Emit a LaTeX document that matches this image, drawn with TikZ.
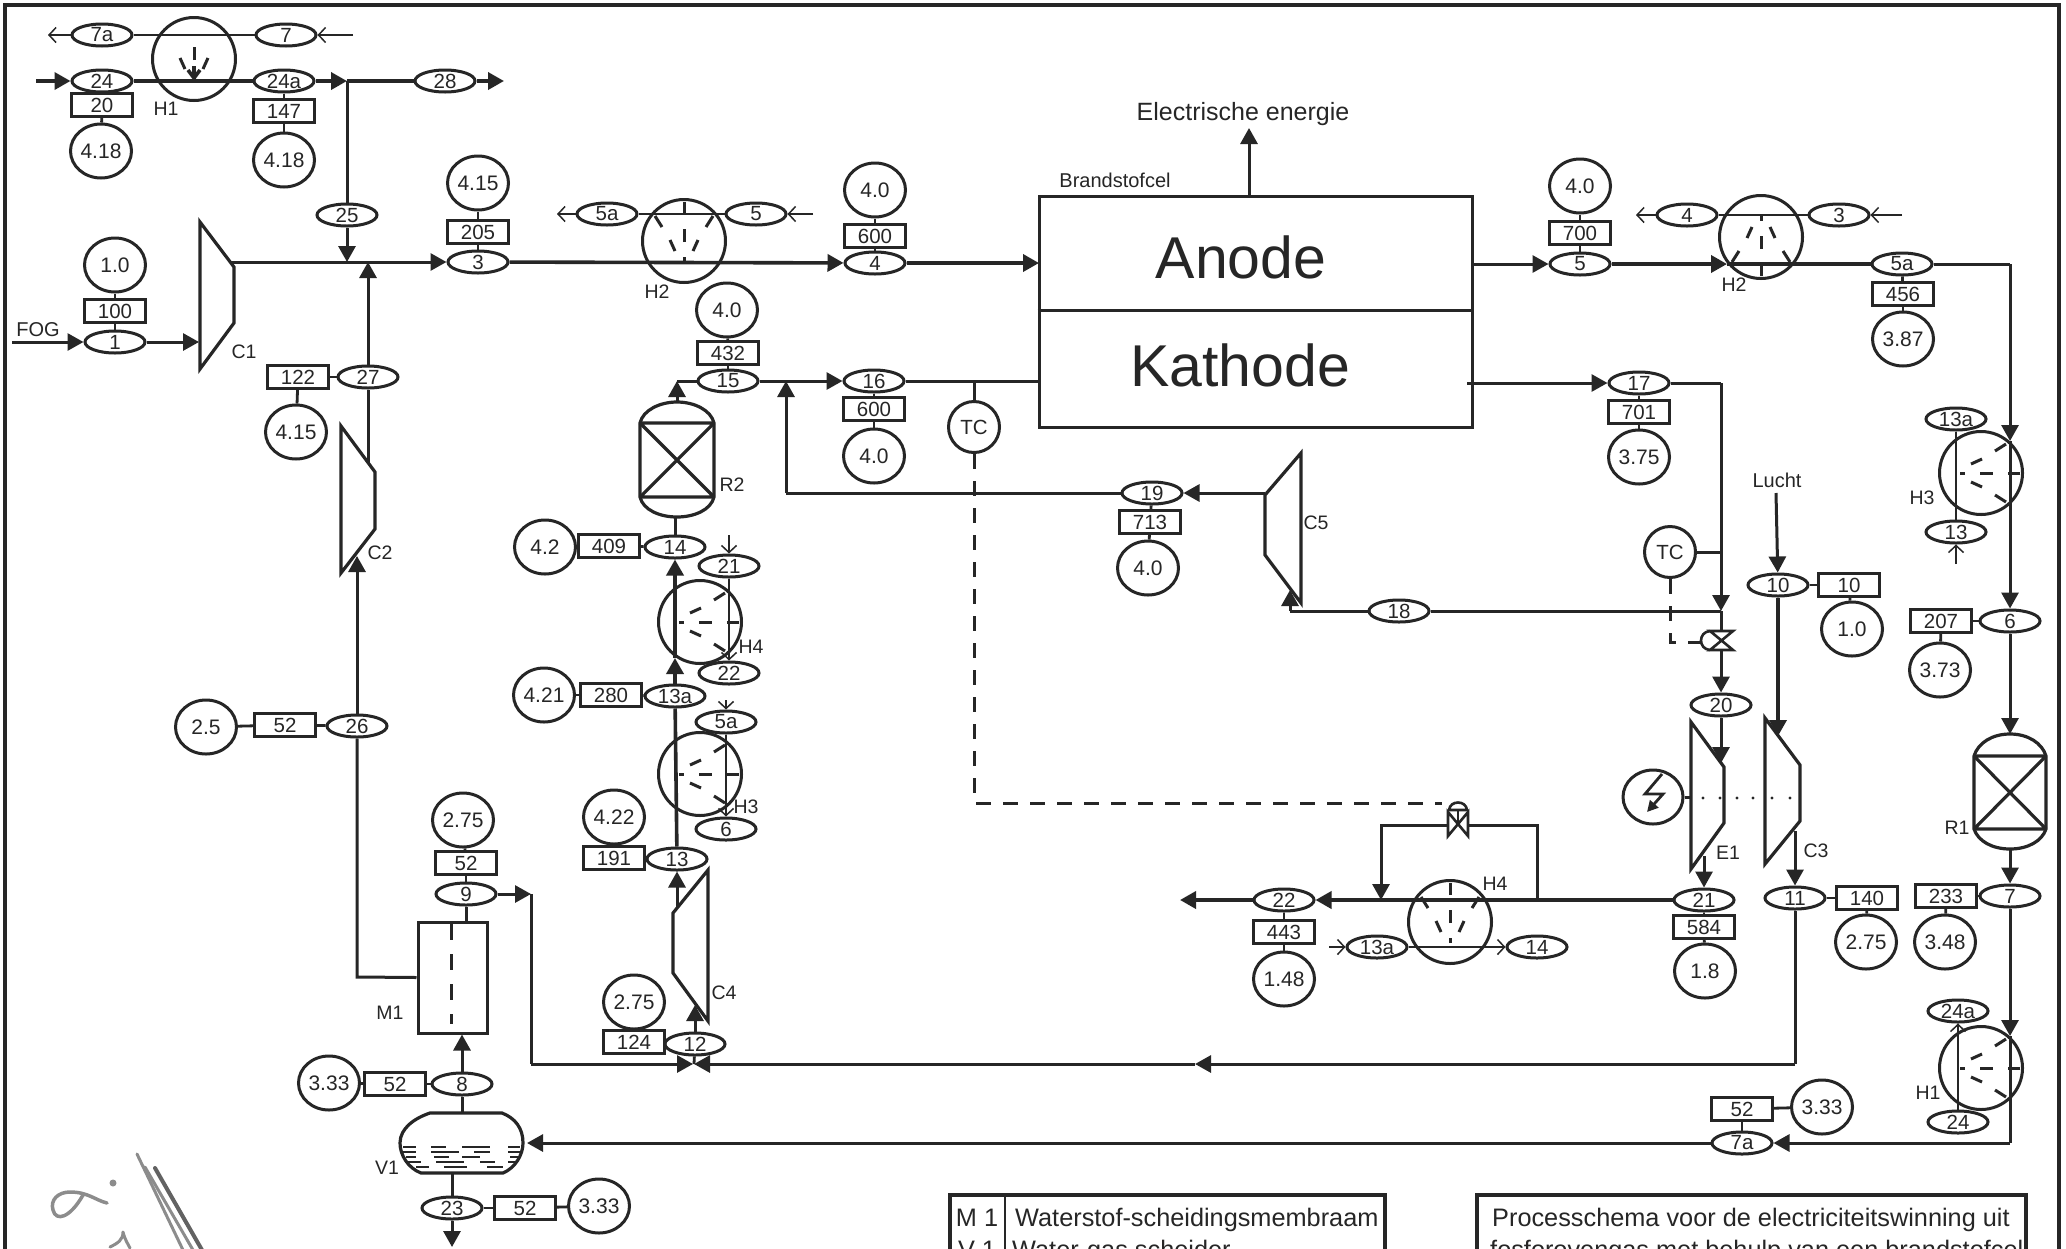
\documentclass[tikz,border=0pt]{standalone}
\usepackage{fontspec}
\setmainfont{Liberation Sans}
\usetikzlibrary{arrows.meta,shapes.geometric,calc}
\newcommand{\fsz}[1]{\fontsize{#1}{#1}\selectfont}
\definecolor{ink}{HTML}{262626}
\definecolor{pencil}{HTML}{8C8C8C}
\tikzset{
  x=1pt,y=-1pt,
  tg/.style={ellipse,draw=ink,line width=3pt,inner sep=0pt,minimum width=60pt,minimum height=22pt,text=ink,font=\fsz{20.5}},
  vl/.style={rectangle,draw=ink,line width=3.2pt,inner sep=0pt,minimum width=61pt,minimum height=23pt,text=ink,font=\fsz{20.5}},
  pr/.style={ellipse,draw=ink,line width=3pt,inner sep=0pt,minimum width=61pt,minimum height=54pt,text=ink,font=\fsz{21}},
  tcn/.style={ellipse,draw=ink,line width=3pt,inner sep=0pt,minimum width=51pt,minimum height=51pt,text=ink,font=\fsz{20.5}},
  lbl/.style={inner sep=0pt,text=ink,font=\fsz{19.5}},
  hxc/.style={circle,draw=ink,line width=3pt,inner sep=0pt,minimum size=83pt},
  hxd/.style={draw=ink,line width=3pt},
  eqp/.style={draw=ink,line width=3.2pt,line join=miter},
  stub/.style={draw=ink,line width=2.8pt},
  ln/.style={draw=ink,line width=3pt},
  hv/.style={draw=ink,line width=3.6pt},
  thn/.style={draw=ink,line width=1.5pt},
  fl/.style={-{Triangle[length=16pt,width=17pt]}},
  ol/.style={thn,-{Straight Barb[length=7pt,width=15pt]}},
  dsh/.style={draw=ink,line width=3pt,dash pattern=on 15pt off 12pt},
  pen/.style={draw=pencil,line cap=round,line join=round},
}
% stream: tag, value box, pressure circle with their stubs
\newcommand{\stk}[7]{%
  \node[tg] (t#1) at (#2) {#3};
  \node[vl] (v#1) at (#4) {#5};
  \node[pr] (p#1) at (#6) {#7};
  \draw[stub] (t#1) -- (v#1);
  \draw[stub] (v#1) -- (p#1);
}
% heat exchanger fan, optionally with outer ticks
\newcommand{\hxfan}[3]{\begin{scope}[shift={(#1)},rotate=#2]
  \draw[hxd] (0,-1) -- (0,12);
  \draw[hxd] (-9,-10) -- (-14,1);
  \draw[hxd] (9,-10) -- (14,1);
  \draw[hxd] (0,-21) -- (0,-16);
  #3
\end{scope}}
\newcommand{\hxout}{%
  \draw[hxd] (-22,14) -- (-29,25);
  \draw[hxd] (22,14) -- (29,25);
  \draw[hxd] (0,27) -- (0,39);}
\begin{document}
\begin{tikzpicture}
\useasboundingbox (0,0) rectangle (2066,1248);
\clip (0,0) rectangle (2066,1248);
\fill[white] (0,0) rectangle (2066,1248);
% frame
\draw[draw=ink,line width=3.2pt] (5,1260) -- (5,5) -- (2059,5) -- (2059,1260);

% ---------- streams
\stk{24}{102,81}{24}{102,105}{20}{101,151}{4.18}
\stk{24a}{284,81}{24a}{284,111}{147}{284,160}{4.18}
\stk{1}{115,342}{1}{115,311}{100}{115,265}{1.0}
\stk{27}{368,377}{27}{298,377}{122}{296,432}{4.15}
\stk{3}{478,262}{3}{478,232}{205}{478,183}{4.15}
\stk{4}{875,263}{4}{875,236}{600}{875,190}{4.0}
\stk{5}{1580,264}{5}{1580,233}{700}{1580,186}{4.0}
\stk{15}{728,381}{15}{728,353}{432}{727,310}{4.0}
\stk{16}{874,381}{16}{874,409}{600}{874,456}{4.0}
\stk{14}{675,547}{14}{609,546}{409}{545,547}{4.2}
\stk{13a}{675,696}{13a}{611,695}{280}{544,695}{4.21}
\stk{13}{677,859}{13}{614,858}{191}{614,817}{4.22}
\stk{12}{695,1044}{12}{634,1042}{124}{634,1002}{2.75}
\stk{26}{357,726}{26}{285,725}{52}{206,727}{2.5}
\stk{9}{466,894}{9}{466,863}{52}{463,820}{2.75}
\stk{8}{462,1084}{8}{395,1084}{52}{329,1083}{3.33}
\stk{23}{452,1208}{23}{525,1208}{52}{599,1206}{3.33}
\stk{7a}{1742,1143}{7a}{1742,1109}{52}{1822,1107}{3.33}
\stk{19}{1152,493}{19}{1150,522}{713}{1148,568}{4.0}
\stk{22}{1284,900}{22}{1284,932}{443}{1284,979}{1.48}
\stk{21}{1704,900}{21}{1704,927}{584}{1705,971}{1.8}
\stk{11}{1795,898}{11}{1867,898}{140}{1866,942}{2.75}
\stk{7}{2010,896}{7}{1946,896}{233}{1945,942}{3.48}
\stk{6}{2010,621}{6}{1941,621}{207}{1940,670}{3.73}
\stk{5a}{1902,264}{5a}{1903,294}{456}{1903,339}{3.87}
\stk{10}{1778,585}{10}{1849,585}{10}{1852,629}{1.0}
\stk{17}{1639,383}{17}{1639,412}{701}{1639,457}{3.75}
\node[tg] (t18) at (1399,611) {18};
\node[tg] (t20) at (1721,705) {20};
\node[tg] (t25) at (347,215) {25};
\node[tg] (t28) at (445,81) {28};

% ---------- auxiliary tags on the exchanger utility sides
\node[tg] (a7a) at (102,35) {7a};
\node[tg] (a7) at (286,35) {7};
\node[tg] (l5a) at (607,214) {5a};
\node[tg] (l5) at (756,214) {5};
\node[tg] (r4) at (1687,215) {4};
\node[tg] (r3) at (1839,215) {3};
\node[tg] (a13ar) at (1956,419) {13a};
\node[tg] (a13r) at (1956,532) {13};
\node[tg] (a24ar) at (1958,1011) {24a};
\node[tg] (a24r) at (1958,1122) {24};
\node[tg] (a21) at (729,566) {21};
\node[tg] (a22) at (729,673) {22};
\node[tg] (a5al) at (726,722) {5a};
\node[tg] (a6l) at (726,829) {6};
\node[tg] (b13a) at (1377,947) {13a};
\node[tg] (b14) at (1537,947) {14};

% ---------- heat exchangers
\node[hxc] (H1t) at (194,59) {};
\hxfan{194,59}{180}{}
\draw[hv,-{Straight Barb[length=8pt,width=12pt]}] (194,66) -- (194,81);
\node[hxc] (H2l) at (684,241) {};
\hxfan{684,241}{180}{\hxout}
\node[hxc] (H2r) at (1761,237) {};
\hxfan{1761,237}{0}{\hxout}
\node[hxc] (H3r) at (1981,473) {};
\hxfan{1981,473}{90}{\hxout}
\node[hxc] (H1r) at (1981,1068) {};
\hxfan{1981,1068}{90}{\hxout}
\node[hxc] (H4l) at (700,622) {};
\hxfan{700,622}{90}{\hxout}
\node[hxc] (H3l) at (700,774) {};
\hxfan{700,774}{90}{\hxout}
\node[hxc] (H4b) at (1450,922) {};
\hxfan{1450,922}{180}{\hxout}

% ---------- utility (thin) lines
\coordinate (c7in) at (353,35); \coordinate (c7out) at (48,35);
\draw[ol] (c7in) -- (a7); \draw[thn] (a7) -- (a7a); \draw[ol] (a7a) -- (c7out);
\coordinate (c5in) at (813,214); \coordinate (c5out) at (557,214);
\draw[ol] (c5in) -- (l5); \draw[thn] (l5) -- (l5a); \draw[ol] (l5a) -- (c5out);
\coordinate (c3in) at (1902,215); \coordinate (c4out) at (1636,215);
\draw[ol] (c3in) -- (r3); \draw[thn] (r3) -- (r4); \draw[ol] (r4) -- (c4out);
\coordinate (c13in) at (1956,564);
\draw[ol] (c13in) -- (a13r); \draw[thn] (a13r) -- (a13ar);
\draw[ol] (a24r) -- (a24ar);
\coordinate (c21in) at (729,535);
\draw[ol] (c21in) -- (a21); \draw[ol] (a21) -- (a22);
\coordinate (c5ain) at (726,700);
\draw[ol] (c5ain) -- (a5al); \draw[ol] (a5al) -- (a6l);
\coordinate (c13ain) at (1329,947);
\draw[ol] (c13ain) -- (b13a); \draw[ol] (b13a) -- (b14);

% ---------- fuel cell
\node[rectangle,draw=ink,line width=3pt,minimum width=433pt,minimum height=231pt,inner sep=0pt] (cell) at (1255.5,311.5) {};
\draw[draw=ink,line width=3pt] (cell.west |- 0,310) -- (cell.east |- 0,310);
\node[inner sep=0pt,text=ink,font=\fsz{59}] (anode) at (1241,257) {Anode};
\node[inner sep=0pt,text=ink,font=\fsz{59}] (kathode) at (1240,365) {Kathode};
\node[inner sep=0pt,text=ink,font=\fsz{20}] (brand) at (1115,180) {Brandstofcel};
\node[inner sep=0pt,text=ink,font=\fsz{25}] (elec) at (1243,114) {Electrische energie};
\coordinate (cellup) at (1249,196); \coordinate (cellupe) at (1249,128);
\draw[ln,fl] (cellup) -- (cellupe);
\coordinate (anW) at (1039,263); \coordinate (anE) at (1472,264);
\coordinate (kaW) at (1039,381); \coordinate (kaE) at (1467,383);

% ---------- compressors and expander
\draw[eqp] (200,222) -- (234,267) -- (234,323) -- (200,369) -- cycle;
\draw[eqp] (341,426) -- (375,472) -- (375,529) -- (341,573) -- cycle;
\draw[eqp] (708,870) -- (673,913) -- (673,973) -- (708,1021) -- cycle;
\draw[eqp] (1301,453) -- (1265,495) -- (1265,555) -- (1301,603) -- cycle;
\draw[eqp] (1691,722) -- (1724,767) -- (1724,823) -- (1691,869) -- cycle;
\draw[eqp] (1765,718) -- (1800,765) -- (1800,821) -- (1765,864) -- cycle;
\node[lbl] (lC1) at (244,352) {C1};
\node[lbl] (lC2) at (380,553) {C2};
\node[lbl] (lC4) at (724,993) {C4};
\node[lbl] (lC5) at (1316,523) {C5};
\node[lbl] (lE1) at (1728,853) {E1};
\node[lbl] (lC3) at (1816,851) {C3};
\node[lbl] (lH1) at (166,109) {H1};
\node[lbl] (lH2l) at (657,292) {H2};
\node[lbl] (lH2r) at (1734,285) {H2};
\node[lbl] (lH3r) at (1922,498) {H3};
\node[lbl] (lH1r) at (1928,1093) {H1};
\node[lbl] (lH4l) at (751,647) {H4};
\node[lbl] (lH3l) at (746,807) {H3};
\node[lbl] (lH4b) at (1495,884) {H4};
\node[lbl] (lR2) at (732,485) {R2};
\node[lbl] (lR1) at (1957,828) {R1};
\node[lbl] (lM1) at (390,1013) {M1};
\node[lbl] (lV1) at (387,1168) {V1};
\node[lbl,font=\fsz{20}] (lFOG) at (38,330) {FOG};
\node[lbl,font=\fsz{20}] (lLucht) at (1777,480) {Lucht};

% reactors
\draw[eqp] (640,423) .. controls (643,410) and (660,402) .. (677,402) .. controls (694,402) and (711,410) .. (714,423) -- (714,497) .. controls (711,510) and (694,517) .. (677,517) .. controls (660,517) and (643,510) .. (640,497) -- cycle;
\draw[eqp] (640,423) -- (714,423) (640,497) -- (714,497) (640,423) -- (714,497) (714,423) -- (640,497);
\draw[eqp] (1974,756) .. controls (1978,743) and (1992,734) .. (2010,734) .. controls (2028,734) and (2042,743) .. (2046,756) -- (2046,829) .. controls (2042,841) and (2028,849) .. (2010,849) .. controls (1992,849) and (1978,841) .. (1974,829) -- cycle;
\draw[eqp] (1974,756) -- (2046,756) (1974,829) -- (2046,829) (1974,756) -- (2046,829) (2046,756) -- (1974,829);

% membrane
\node[rectangle,draw=ink,line width=3pt,minimum width=69pt,minimum height=111pt,inner sep=0pt] (M1) at (452.5,977.5) {};
\draw[dsh,dash pattern=on 16pt off 14pt] (451,924) -- (451,1024);

% separator
\draw[eqp] (430,1113) -- (502,1113) .. controls (515,1118) and (523,1128) .. (523,1143) .. controls (523,1155) and (515,1168) .. (503,1173) -- (421,1173) .. controls (408,1168) and (400,1155) .. (400,1143) .. controls (400,1128) and (415,1118) .. (430,1113) -- cycle;
\foreach \yy/\xa/\xb in {1147/403/416,1147/431/446,1147/462/490,1147/508/520,
 1152/403/416,1152/431/459,1152/474/490,1152/508/520,
 1157/406/416,1157/434/449,1157/462/480,1157/510/518,
 1162/408/421,1162/436/464,1162/480/495,1162/508/515,
 1167/416/429,1167/444/467,1167/487/503}
  {\draw[draw=ink,line width=2.8pt] (\xa,\yy) -- (\xb,\yy);}

% generator
\node[ellipse,draw=ink,line width=3pt,minimum width=60pt,minimum height=54pt,inner sep=0pt] (G) at (1653,797) {};
\coordinate (E1w) at (1691,797);
\draw[ln] (G) -- (E1w);
\draw[draw=ink,line width=2.8pt,-{Triangle[length=11pt,width=11pt]}] (1662,774) -- (1645,794) -- (1663,794) -- (1647,812);
\foreach \xx in {1703,1720,1737,1753,1772,1790} {\fill[ink] (\xx,798) circle (1.7pt);}

% TC controllers
\node[tcn] (TC1) at (974,427) {TC};
\node[tcn] (TC2) at (1670,552) {TC};

% valves
\draw[eqp,line width=2.6pt] (1710,631) -- (1733,650) -- (1710,650) -- (1733,631) -- cycle;
\draw[eqp,line width=2.6pt] (1710,631) .. controls (1698,632) and (1698,649) .. (1710,650);
\draw[eqp,line width=2.6pt] (1448,812) -- (1468,836) -- (1468,812) -- (1448,836) -- cycle;
\draw[eqp,line width=2.6pt] (1449,810) .. controls (1450,800) and (1466,800) .. (1467,810) -- cycle;
\draw[draw=ink,line width=2.6pt] (1458,810) -- (1458,824);

% ---------- process connectors
\coordinate (s24) at (36,81); \coordinate (j25) at (347,81); \coordinate (e28) at (504,81);
\draw[hv,fl] (s24) -- (t24);
\draw[hv] (t24) -- (t24a);
\draw[hv,fl] (t24a) -- (j25);
\draw[hv] (j25) -- (t28);
\draw[hv,fl] (t28) -- (e28);
\draw[ln] (j25) -- (t25);
\coordinate (j262) at (347,262); \coordinate (j368) at (368,262);
\draw[ln,fl] (t25) -- (j262);
\draw[ln,fl] (t27) -- (j368);
\coordinate (sFOG) at (12,342); \coordinate (C1in) at (199,342); \coordinate (C1out) at (230,262);
\draw[ln,fl] (sFOG) -- (t1);
\draw[ln,fl] (t1) -- (C1in);
\draw[ln,fl] (C1out) -- (t3);
\draw[hv,fl] (t3) -- (t4);
\draw[hv,fl] (t4) -- (anW);
\draw[ln,fl] (anE) -- (t5);
\coordinate (h2in) at (1727,264); \coordinate (c5a) at (2010,264); \coordinate (h3in) at (2010,441);
\draw[hv,fl] (t5) -- (h2in);
\draw[hv] (h2in) -- (t5a);
\draw[ln] (t5a) -- (c5a);
\draw[ln,fl] (c5a) -- (h3in);
\draw[ln,fl] (h3in) -- (t6);
\coordinate (r1in) at (2010,734); \coordinate (r1out) at (2010,849); \coordinate (h1in) at (2010,1036); \coordinate (c7a) at (2010,1143);
\draw[ln,fl] (t6) -- (r1in);
\draw[ln,fl] (r1out) -- (t7);
\draw[ln,fl] (t7) -- (h1in);
\draw[ln] (h1in) -- (c7a);
\draw[ln,fl] (c7a) -- (t7a);
\coordinate (v1in) at (527,1143);
\draw[ln,fl] (t7a) -- (v1in);
% cathode loop
\coordinate (r2top) at (677,402); \coordinate (r2up) at (677,381); \coordinate (j16) at (786,381);
\draw[ln,fl] (r2top) -- (r2up);
\draw[ln] (r2up) -- (t15);
\draw[ln,fl] (t15) -- (t16);
\draw[ln] (t16) -- (kaW);
\coordinate (jtc) at (974,381); \draw[ln] (jtc) -- (TC1);
\coordinate (c19) at (786,493); \coordinate (C5out) at (1265,493);
\draw[ln,fl] (C5out) -- (t19);
\draw[ln] (t19) -- (c19);
\draw[ln,fl] (c19) -- (j16);
\draw[ln,fl] (kaE) -- (t17);
\coordinate (c17) at (1721,383); \coordinate (j18) at (1721,611); \coordinate (jtc2) at (1721,552);
\draw[ln] (t17) -- (c17);
\draw[ln,fl] (c17) -- (j18);
\draw[ln] (TC2) -- (jtc2);
\coordinate (c18) at (1290,611); \coordinate (C5in) at (1290,590);
\draw[ln] (j18) -- (t18);
\draw[ln] (t18) -- (c18);
\draw[ln,fl] (c18) -- (C5in);
\coordinate (vlvt) at (1721,631); \coordinate (vlvb) at (1721,650);
\draw[ln] (j18) -- (vlvt);
\draw[ln,fl] (vlvb) -- (t20);
\coordinate (E1in) at (1721,763); \coordinate (E1out) at (1704,856);
\draw[ln,fl] (t20) -- (E1in);
\draw[ln,fl] (E1out) -- (t21);
\draw[hv,fl] (t21) -- (t22);
\coordinate (e22) at (1180,900);
\draw[hv,fl] (t22) -- (e22);
% bypass
\coordinate (bp1) at (1537,900); \coordinate (bp2) at (1537,825); \coordinate (bpv1) at (1468,825);
\coordinate (bpv2) at (1448,825); \coordinate (bp3) at (1381,825); \coordinate (bp4) at (1381,900);
\draw[ln] (bp1) -- (bp2) -- (bpv1);
\draw[ln,fl] (bpv2) -- (bp3) -- (bp4);
% dashed control signals
\coordinate (dc1) at (974,803); \coordinate (dc2) at (1442,803);
\draw[dsh] (TC1) -- (dc1) -- (dc2);
\coordinate (dc3) at (1670,642); \coordinate (dc4) at (1702,642);
\draw[dsh] (TC2) -- (dc3) -- (dc4);
% air
\coordinate (sLucht) at (1776,493); \coordinate (C3in) at (1778,736);
\draw[ln,fl] (sLucht) -- (t10);
\draw[hv,fl] (t10) -- (C3in);
\coordinate (C3out) at (1795,831); \coordinate (c11) at (1795,1064); \coordinate (m1064) at (1195,1064); \coordinate (jR) at (694,1064);
\draw[ln,fl] (C3out) -- (t11);
\draw[ln] (t11) -- (c11);
\draw[ln,fl] (c11) -- (m1064);
\draw[ln,fl] (m1064) -- (jR);
\draw[stub] (t12) -- (jR);
% hydrogen loop
\coordinate (c9) at (531,894); \coordinate (c9b) at (531,1064); \coordinate (jL) at (693,1064);
\draw[ln,fl] (t9) -- (c9);
\draw[ln] (c9) -- (c9b);
\draw[ln,fl] (c9b) -- (jL);
\draw[ln] (t9) -- (t9 |- M1.north);
\draw[ln,fl] (t8) -- (t8 |- M1.south);
\coordinate (V1t) at (462,1113); \coordinate (V1b) at (452,1173); \coordinate (e23) at (452,1247);
\draw[ln] (V1t) -- (t8);
\draw[ln] (V1b) -- (t23);
\draw[ln,fl] (t23) -- (e23);
\coordinate (c26) at (357,977); \coordinate (C2in) at (357,556); \coordinate (C2out) at (368,462);
\draw[ln] (M1.west) -- (c26) -- (t26);
\draw[ln,fl] (t26) -- (C2in);
\draw[ln] (C2out) -- (t27);
\coordinate (C4in) at (695,1005); \coordinate (C4out) at (677,907);
\draw[ln,fl] (t12) -- (C4in);
\draw[ln,fl] (C4out) -- (t13);
\coordinate (j658) at (675,658);
\draw[hv] (t13) -- (t13a);
\draw[hv,fl] (t13a) -- (j658);
\draw[hv,fl] (j658) -- (t14);
\coordinate (r2bot) at (675,517);
\draw[ln] (t14) -- (r2bot);

% ---------- legend boxes (run off the sheet)
\node[inner sep=0pt,text=ink,font=\fsz{25.3},anchor=base] (lm) at (977,1226) {M 1};
\node[inner sep=0pt,text=ink,font=\fsz{25.3},anchor=base west] (lmt) at (1015,1226) {Waterstof-scheidingsmembraam};
\node[inner sep=0pt,text=ink,font=\fsz{25.3},anchor=base] (lv) at (977,1258) {V 1};
\node[inner sep=0pt,text=ink,font=\fsz{25.3},anchor=base west] (lvt) at (1012,1258) {Water-gas scheider};
\draw[draw=ink,line width=3.2pt] (950,1260) -- (950,1195) -- (1385,1195) -- (1385,1260);
\draw[draw=ink,line width=2.6pt] (1005,1195) -- (1005,1260);
\node[inner sep=0pt,text=ink,font=\fsz{25.3},anchor=base west] (ps1) at (1492,1226) {Processchema voor de electriciteitswinning uit};
\node[inner sep=0pt,text=ink,font=\fsz{25.3},anchor=base west] (ps2) at (1490,1258) {fosforovengas met behulp van een brandstofcel};
\draw[draw=ink,line width=3.2pt] (1477,1260) -- (1477,1195) -- (2026,1195) -- (2026,1260);

% ---------- pencil marks
\draw[pen,line width=3.5pt] (107,1203) .. controls (95,1200) and (88,1192) .. (70,1192) .. controls (58,1192) and (50,1200) .. (53,1210) .. controls (56,1222) and (70,1218) .. (83,1195);
\fill[pencil] (113,1183) circle (3.5pt);
\draw[pen,line width=3pt] (137,1154) -- (183,1250);
\draw[pen,line width=3pt] (145,1167) -- (193,1250);
\draw[pen,line width=4pt,draw=pencil!70!black] (155,1168) -- (202,1250);
\draw[pen,line width=3pt] (110,1247) .. controls (118,1243) and (123,1240) .. (123,1232) .. controls (125,1240) and (128,1244) .. (130,1248);
\end{tikzpicture}
\end{document}
